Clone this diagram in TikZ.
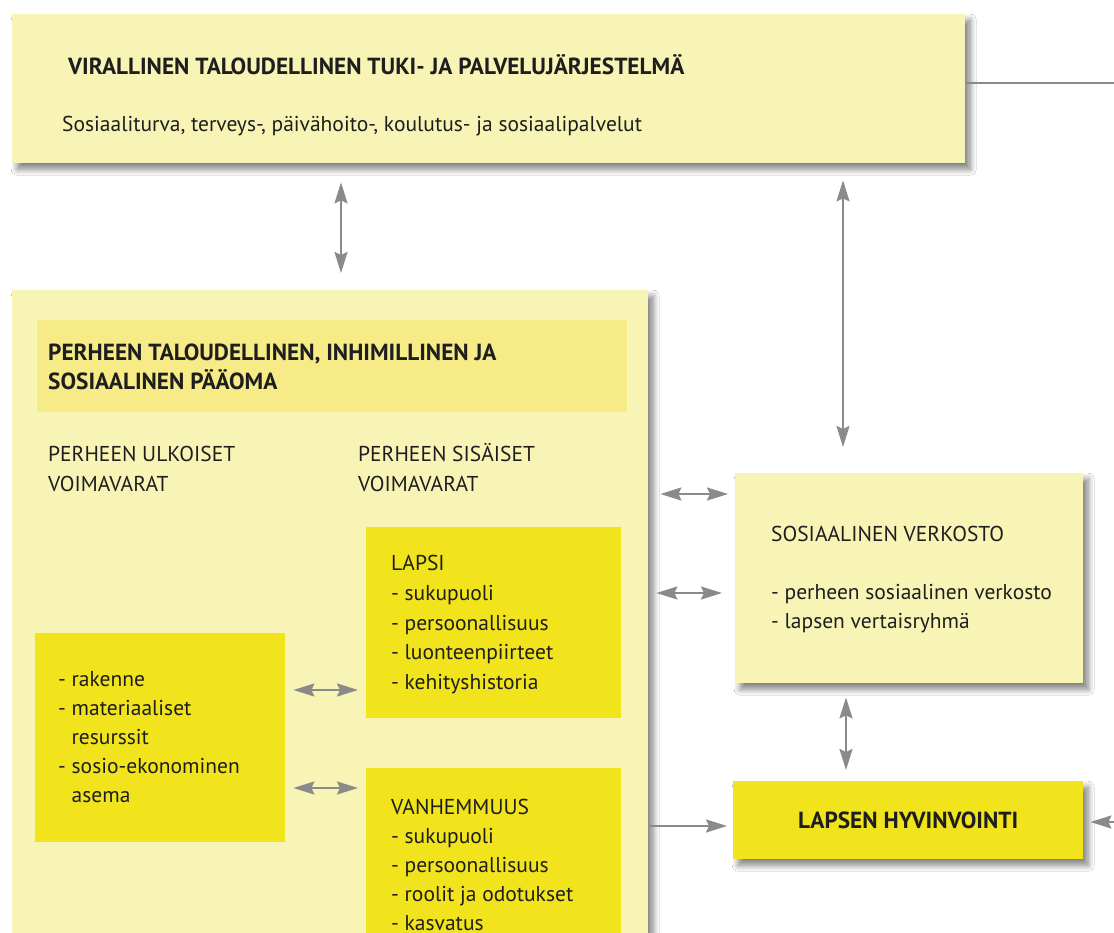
\documentclass[tikz,border=0pt]{standalone}
\usepackage{fontspec}
\setmainfont{PT Sans}
\usetikzlibrary{arrows.meta,shadows.blur}
\definecolor{paleY}{HTML}{F8F4B6}
\definecolor{headY}{HTML}{F6EB86}
\definecolor{brightY}{HTML}{F1E31C}
\definecolor{arrowG}{HTML}{8A8A8A}
\definecolor{txt}{HTML}{1E1E1E}
\tikzset{
  box/.style={draw=none, inner sep=0pt, anchor=north west},
  shad/.style={blur shadow={shadow xshift=5pt, shadow yshift=-6pt, shadow blur steps=10, shadow blur radius=6pt, shadow opacity=50}},
  conn/.style={draw=arrowG, line width=2pt},
  tipG/.tip={Stealth[length=21pt,width=13pt,inset=3pt]},
  dbl/.style={conn, tipG-tipG},
  sgl/.style={conn, -tipG},
  txtn/.style={anchor=base west, inner sep=0pt, text=txt, font=\fontsize{21.5}{29}\selectfont},
  bold/.style={txtn, font=\fontsize{23.3}{29}\selectfont\bfseries},
}
\begin{document}
\begin{tikzpicture}[x=1pt,y=-1pt]
\useasboundingbox (0,0) rectangle (1114,933);
\clip (0,0) rectangle (1114,933);
\fill[white] (0,0) rectangle (1114,933);
% boxes
\node[box, fill=paleY, shad, minimum width=953pt, minimum height=149pt] (top) at (12,14) {};
\node[box, fill=paleY, shad, minimum width=636pt, minimum height=700pt] (fam) at (12,290) {};
\node[box, fill=headY, minimum width=590pt, minimum height=92pt] (head) at (37,320) {};
\node[box, fill=brightY, minimum width=250pt, minimum height=209pt] (ext) at (35,633) {};
\node[box, fill=brightY, minimum width=255pt, minimum height=191pt] (lapsi) at (366,527) {};
\node[box, fill=brightY, minimum width=255pt, minimum height=220pt] (vanh) at (366,768) {};
\node[box, fill=paleY, shad, minimum width=348pt, minimum height=210pt] (soc) at (735,473) {};
\node[box, fill=brightY, shad, minimum width=350pt, minimum height=78pt] (well) at (733,781) {};
% texts
\node[bold] (t1) at (68,75) {VIRALLINEN TALOUDELLINEN TUKI- JA PALVELUJÄRJESTELMÄ};
\node[txtn] (t2) at (62,132) {Sosiaaliturva, terveys-, päivähoito-, koulutus- ja sosiaalipalvelut};
\node[bold] (t3) at (48,360) {PERHEEN TALOUDELLINEN, INHIMILLINEN JA};
\node[bold] (t4) at (48,389) {SOSIAALINEN PÄÄOMA};
\node[txtn] (t5) at (48,461) {PERHEEN ULKOISET};
\node[txtn] (t6) at (48,491) {VOIMAVARAT};
\node[txtn] (t7) at (358,461) {PERHEEN SISÄISET};
\node[txtn] (t8) at (358,491) {VOIMAVARAT};
\node[txtn] (l1) at (391,570) {LAPSI};
\node[txtn] (l2) at (391,600) {- sukupuoli};
\node[txtn] (l3) at (391,630) {- persoonallisuus};
\node[txtn] (l4) at (391,659) {- luonteenpiirteet};
\node[txtn] (l5) at (391,689) {- kehityshistoria};
\node[txtn] (e1) at (58,686) {- rakenne};
\node[txtn] (e2) at (58,715) {- materiaaliset};
\node[txtn] (e3) at (58,744) {\phantom{- }resurssit};
\node[txtn] (e4) at (58,773) {- sosio-ekonominen};
\node[txtn] (e5) at (58,802) {\phantom{- }asema};
\node[txtn] (v1) at (391,814) {VANHEMMUUS};
\node[txtn] (v2) at (391,843) {- sukupuoli};
\node[txtn] (v3) at (391,872) {- persoonallisuus};
\node[txtn] (v4) at (391,901) {- roolit ja odotukset};
\node[txtn] (v5) at (391,930) {- kasvatus};
\node[txtn] (s1) at (771,541) {SOSIAALINEN VERKOSTO};
\node[txtn] (s2) at (771,599) {- perheen sosiaalinen verkosto};
\node[txtn] (s3) at (771,628) {- lapsen vertaisryhmä};
\node[bold, anchor=center] (w1) at (well.center) {LAPSEN HYVINVOINTI};
% helper coordinates
\coordinate (xa) at (341,0);
\coordinate (xb) at (843,0);
\coordinate (xc) at (846,0);
\coordinate (ya) at (0,494);
\coordinate (yb) at (0,593);
\coordinate (yc) at (0,690);
\coordinate (yd) at (0,788);
\coordinate (ye) at (0,826);
\coordinate (r1) at (1114,83);
\coordinate (r2) at (1114,822);
% connectors
\draw[dbl, shorten <=19pt, shorten >=17pt] (top.south -| xa) -- (fam.north -| xa);
\draw[dbl, shorten <=17pt, shorten >=26pt] (top.south -| xb) -- (soc.north -| xb);
\draw[dbl, shorten <=12pt, shorten >=7pt] (fam.east |- ya) -- (soc.west |- ya);
\draw[dbl, shorten <=8pt, shorten >=13pt] (fam.east |- yb) -- (soc.west |- yb);
\draw[dbl, shorten <=8pt, shorten >=8pt] (ext.east |- yc) -- (lapsi.west |- yc);
\draw[dbl, shorten <=8pt, shorten >=8pt] (ext.east |- yd) -- (vanh.west |- yd);
\draw[dbl, shorten <=14pt, shorten >=11pt] (soc.south -| xc) -- (well.north -| xc);
\draw[sgl, shorten >=6pt] (fam.east |- ye) -- (well.west |- ye);
\draw[conn] (top.east |- r1) -- (r1);
\draw[sgl, shorten >=7pt] (r2) -- (well.east |- r2);
\end{tikzpicture}
\end{document}
